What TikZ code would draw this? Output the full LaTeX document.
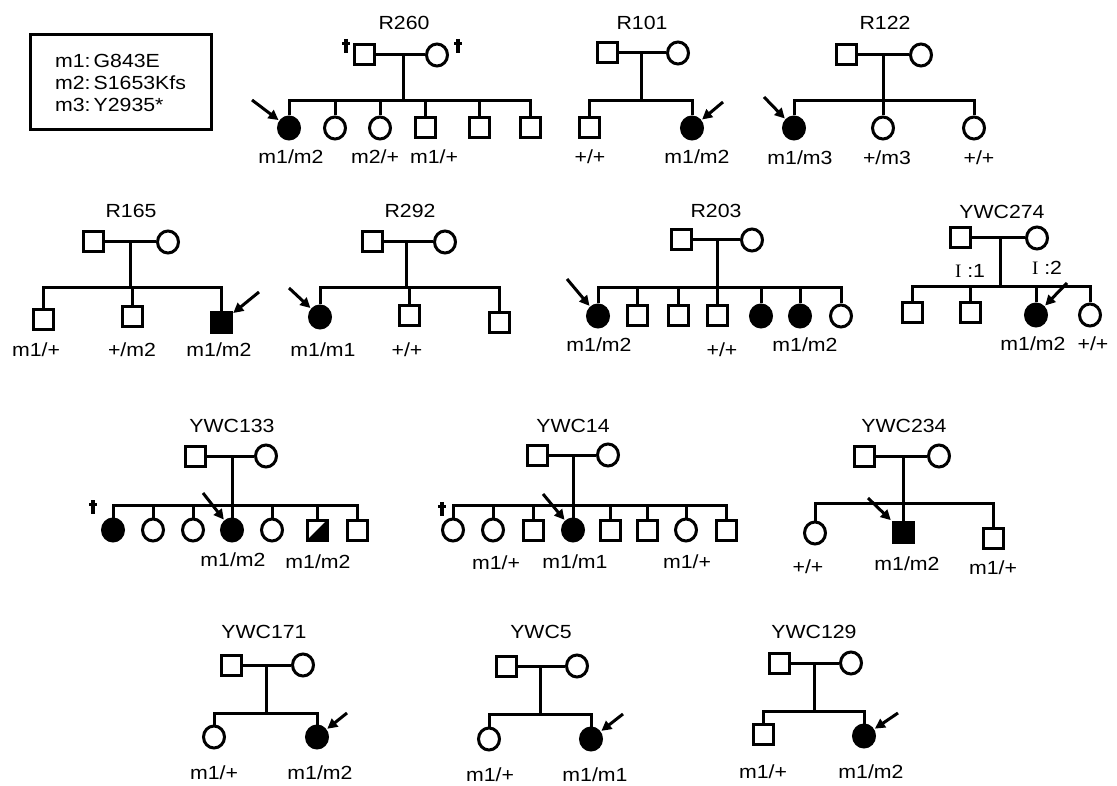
\documentclass[tikz,border=0pt]{standalone}
\usepackage{fontspec}
\setmainfont{Liberation Sans}[FakeStretch=1.12]
\newfontfamily\genfont{Liberation Serif}
\usetikzlibrary{arrows.meta, shapes.geometric}

\tikzset{deathmark/.pic={\draw[line width=3.2pt] (0,-8) -- (0,6) (-4,-3.5) -- (4,-3.5);}}

\begin{document}
\begin{tikzpicture}[x=1pt, y=-1pt, line width=3pt,
  font=\fontsize{19}{22}\selectfont,
  male/.style={rectangle, draw, minimum size=20, inner sep=0pt},
  female/.style={ellipse, draw, minimum width=21, minimum height=22, inner sep=0pt},
  aff/.style={fill=black},
  carrier/.style={path picture={\fill (path picture bounding box.south west) -- (path picture bounding box.south east) -- (path picture bounding box.north east) -- cycle;}},
  pointer/.style={-{Triangle[length=10pt,width=10pt]}, shorten >=1pt},
]
\useasboundingbox (0,0) rectangle (1117,786);

\node[draw, minimum width=181, minimum height=95, align=left] (legend) at (120.5,82.5) {m1:\,G843E\\m2:\,S1653Kfs\\m3:\,Y2935*};

% R260
\node (r260lab) at (404,23) {R260};
\node[male] (r260f) at (364,55) {};
\node[female] (r260m) at (437,55) {};
\pic at (346,47) {deathmark};
\pic at (458,47) {deathmark};
\coordinate (r260s) at (403,101);
\node[female,aff] (r260c1) at (289,128) {};
\node[female] (r260c2) at (335,128) {};
\node[female] (r260c3) at (380,128) {};
\node[male] (r260c4) at (425,128) {};
\node[male] (r260c5) at (479,128) {};
\node[male] (r260c6) at (530,128) {};
\draw (r260f) -- (r260m);
\draw (r260s |- r260f) -- (r260s);
\draw (r260c1.north) |- (r260s) -| (r260c6.north);
\foreach \k in {2,...,5} \draw (r260c\k |- r260s) -- (r260c\k.north);
\node (r260g1) at (291,157) {m1/m2};
\node (r260g2) at (375,157) {m2/+};
\node (r260g3) at (434,157) {m1/+};
\coordinate (r260p) at (252,100);
\draw[pointer] (r260p) -- (r260c1);

% R101
\node (r101lab) at (642,23) {R101};
\node[male] (r101f) at (607,53) {};
\node[female] (r101m) at (678,53) {};
\coordinate (r101s) at (641,101);
\node[male] (r101c1) at (589,128) {};
\node[female,aff] (r101c2) at (692,128) {};
\draw (r101f) -- (r101m);
\draw (r101s |- r101f) -- (r101s);
\draw (r101c1.north) |- (r101s) -| (r101c2.north);
\node (r101g1) at (590,157) {+/+};
\node (r101g2) at (697,157) {m1/m2};
\coordinate (r101p) at (723,102);
\draw[pointer] (r101p) -- (r101c2);

% R122
\node (r122lab) at (885,23) {R122};
\node[male] (r122f) at (846,55) {};
\node[female] (r122m) at (921,55) {};
\coordinate (r122s) at (883,101);
\node[female,aff] (r122c1) at (794,128) {};
\node[female] (r122c2) at (883,128) {};
\node[female] (r122c3) at (974,128) {};
\draw (r122f) -- (r122m);
\draw (r122s |- r122f) -- (r122s);
\draw (r122c1.north) |- (r122s) -| (r122c3.north);
\draw (r122c2 |- r122s) -- (r122c2.north);
\node (r122g1) at (800,158) {m1/m3};
\node (r122g2) at (887,158) {+/m3};
\node (r122g3) at (979,158) {+/+};
\coordinate (r122p) at (764,97);
\draw[pointer] (r122p) -- (r122c1);

% R165
\node (r165lab) at (131,211) {R165};
\node[male] (r165f) at (93,242) {};
\node[female] (r165m) at (168,242) {};
\coordinate (r165s) at (130,288);
\node[male] (r165c1) at (43,320) {};
\node[male] (r165c2) at (132,317) {};
\node[male,aff] (r165c3) at (221,323) {};
\draw (r165f) -- (r165m);
\draw (r165s |- r165f) -- (r165s);
\draw (r165c1.north) |- (r165s) -| (r165c3.north);
\draw (r165c2 |- r165s) -- (r165c2.north);
\node (r165g1) at (36,350) {m1/+};
\node (r165g2) at (132,350) {+/m2};
\node (r165g3) at (219,350) {m1/m2};
\coordinate (r165p) at (259,292);
\draw[pointer] (r165p) -- (r165c3);

% R292
\node (r292lab) at (410,211) {R292};
\node[male] (r292f) at (372,242) {};
\node[female] (r292m) at (445,242) {};
\coordinate (r292s) at (406,288);
\node[female,aff] (r292c1) at (320,317) {};
\node[male] (r292c2) at (409,316) {};
\node[male] (r292c3) at (499,323) {};
\draw (r292f) -- (r292m);
\draw (r292s |- r292f) -- (r292s);
\draw (r292c1.north) |- (r292s) -| (r292c3.north);
\draw (r292c2 |- r292s) -- (r292c2.north);
\node (r292g1) at (323,350) {m1/m1};
\node (r292g2) at (407,350) {+/+};
\coordinate (r292p) at (289,288);
\draw[pointer] (r292p) -- (r292c1);

% R203
\node (r203lab) at (716,211) {R203};
\node[male] (r203f) at (681,240) {};
\node[female] (r203m) at (752,240) {};
\coordinate (r203s) at (717,288);
\node[female,aff] (r203c1) at (598,316) {};
\node[male] (r203c2) at (637,316) {};
\node[male] (r203c3) at (678,316) {};
\node[male] (r203c4) at (717,316) {};
\node[female,aff] (r203c5) at (761,316) {};
\node[female,aff] (r203c6) at (800,316) {};
\node[female] (r203c7) at (841,316) {};
\draw (r203f) -- (r203m);
\draw (r203s |- r203f) -- (r203s);
\draw (r203c1.north) |- (r203s) -| (r203c7.north);
\foreach \k in {2,...,6} \draw (r203c\k |- r203s) -- (r203c\k.north);
\node (r203g1) at (599,345) {m1/m2};
\node (r203g2) at (722,350) {+/+};
\node (r203g3) at (805,345) {m1/m2};
\coordinate (r203p) at (567,279);
\draw[pointer] (r203p) -- (r203c1);

% YWC274
\node (ywc274lab) at (1002,212) {YWC274};
\node[male] (ywc274f) at (960,238) {};
\node[female] (ywc274m) at (1037,238) {};
\coordinate (ywc274s) at (1000,287);
\node[male] (ywc274c1) at (912,313) {};
\node[male] (ywc274c2) at (970,313) {};
\node[female,aff] (ywc274c3) at (1036,315) {};
\node[female] (ywc274c4) at (1090,315) {};
\draw (ywc274f) -- (ywc274m);
\draw (ywc274s |- ywc274f) -- (ywc274s);
\draw (ywc274c1.north) |- (ywc274s) -| (ywc274c4.north);
\foreach \k in {2,3} \draw (ywc274c\k |- ywc274s) -- (ywc274c\k.north);
\node (ywc274n1) at (970,271) {{\genfont I} :1};
\node (ywc274n2) at (1047,268) {{\genfont I} :2};
\node (ywc274g1) at (1033,344) {m1/m2};
\node (ywc274g2) at (1093,344) {+/+};
\coordinate (ywc274p) at (1067,283);
\draw[pointer] (ywc274p) -- (ywc274c3);

% YWC133
\node (ywc133lab) at (232,426) {YWC133};
\node[male] (ywc133f) at (195,456) {};
\node[female] (ywc133m) at (266,456) {};
\coordinate (ywc133s) at (232,505);
\node[female,aff] (ywc133c1) at (113,530) {};
\node[female] (ywc133c2) at (153,530) {};
\node[female] (ywc133c3) at (193,530) {};
\node[female,aff] (ywc133c4) at (232,530) {};
\node[female] (ywc133c5) at (272,530) {};
\node[male,carrier] (ywc133c6) at (317,530) {};
\node[male] (ywc133c7) at (357,530) {};
\pic at (93,508) {deathmark};
\draw (ywc133f) -- (ywc133m);
\draw (ywc133s |- ywc133f) -- (ywc133s);
\draw (ywc133c1.north) |- (ywc133s) -| (ywc133c7.north);
\foreach \k in {2,...,6} \draw (ywc133c\k |- ywc133s) -- (ywc133c\k.north);
\node (ywc133g1) at (233,560) {m1/m2};
\node (ywc133g2) at (318,562) {m1/m2};
\coordinate (ywc133p) at (203,493);
\draw[pointer] (ywc133p) -- (ywc133c4);

% YWC14
\node (ywc14lab) at (573,426) {YWC14};
\node[male] (ywc14f) at (537,455) {};
\node[female] (ywc14m) at (608,455) {};
\coordinate (ywc14s) at (573,505);
\node[female] (ywc14c1) at (453,530) {};
\node[female] (ywc14c2) at (493,530) {};
\node[male] (ywc14c3) at (533,530) {};
\node[female,aff] (ywc14c4) at (573,530) {};
\node[male] (ywc14c5) at (610,530) {};
\node[male] (ywc14c6) at (647,530) {};
\node[female] (ywc14c7) at (686,530) {};
\node[male] (ywc14c8) at (726,530) {};
\pic at (442,510) {deathmark};
\draw (ywc14f) -- (ywc14m);
\draw (ywc14s |- ywc14f) -- (ywc14s);
\draw (ywc14c1.north) |- (ywc14s) -| (ywc14c8.north);
\foreach \k in {2,...,7} \draw (ywc14c\k |- ywc14s) -- (ywc14c\k.north);
\node (ywc14g1) at (496,563) {m1/+};
\node (ywc14g2) at (575,562) {m1/m1};
\node (ywc14g3) at (687,562) {m1/+};
\coordinate (ywc14p) at (543,494);
\draw[pointer] (ywc14p) -- (ywc14c4);

% YWC234
\node (ywc234lab) at (904,426) {YWC234};
\node[male] (ywc234f) at (864,456) {};
\node[female] (ywc234m) at (939,456) {};
\coordinate (ywc234s) at (903,503);
\node[female] (ywc234c1) at (815,533) {};
\node[male,aff] (ywc234c2) at (903,532) {};
\node[male] (ywc234c3) at (993,538) {};
\draw (ywc234f) -- (ywc234m);
\draw (ywc234s |- ywc234f) -- (ywc234s);
\draw (ywc234c1.north) |- (ywc234s) -| (ywc234c3.north);
\draw (ywc234c2 |- ywc234s) -- (ywc234c2.north);
\node (ywc234g1) at (808,567) {+/+};
\node (ywc234g2) at (907,564) {m1/m2};
\node (ywc234g3) at (993,568) {m1/+};
\coordinate (ywc234p) at (868,498);
\draw[pointer] (ywc234p) -- (ywc234c2);

% YWC171
\node (ywc171lab) at (264,632) {YWC171};
\node[male] (ywc171f) at (231,665) {};
\node[female] (ywc171m) at (303,665) {};
\coordinate (ywc171s) at (266,713);
\node[female] (ywc171c1) at (214,737) {};
\node[female,aff] (ywc171c2) at (317,737) {};
\draw (ywc171f) -- (ywc171m);
\draw (ywc171s |- ywc171f) -- (ywc171s);
\draw (ywc171c1.north) |- (ywc171s) -| (ywc171c2.north);
\node (ywc171g1) at (214,773) {m1/+};
\node (ywc171g2) at (320,773) {m1/m2};
\coordinate (ywc171p) at (347,713);
\draw[pointer] (ywc171p) -- (ywc171c2);

% YWC5
\node (ywc5lab) at (541,632) {YWC5};
\node[male] (ywc5f) at (506,666) {};
\node[female] (ywc5m) at (577,666) {};
\coordinate (ywc5s) at (540,714);
\node[female] (ywc5c1) at (489,739) {};
\node[female,aff] (ywc5c2) at (591,739) {};
\draw (ywc5f) -- (ywc5m);
\draw (ywc5s |- ywc5f) -- (ywc5s);
\draw (ywc5c1.north) |- (ywc5s) -| (ywc5c2.north);
\node (ywc5g1) at (490,775) {m1/+};
\node (ywc5g2) at (595,775) {m1/m1};
\coordinate (ywc5p) at (623,714);
\draw[pointer] (ywc5p) -- (ywc5c2);

% YWC129
\node (ywc129lab) at (814,632) {YWC129};
\node[male] (ywc129f) at (779,663) {};
\node[female] (ywc129m) at (851,663) {};
\coordinate (ywc129s) at (814,711);
\node[male] (ywc129c1) at (763,734) {};
\node[female,aff] (ywc129c2) at (864,736) {};
\draw (ywc129f) -- (ywc129m);
\draw (ywc129s |- ywc129f) -- (ywc129s);
\draw (ywc129c1.north) |- (ywc129s) -| (ywc129c2.north);
\node (ywc129g1) at (763,772) {m1/+};
\node (ywc129g2) at (871,772) {m1/m2};
\coordinate (ywc129p) at (898,713);
\draw[pointer] (ywc129p) -- (ywc129c2);

\end{tikzpicture}
\end{document}
